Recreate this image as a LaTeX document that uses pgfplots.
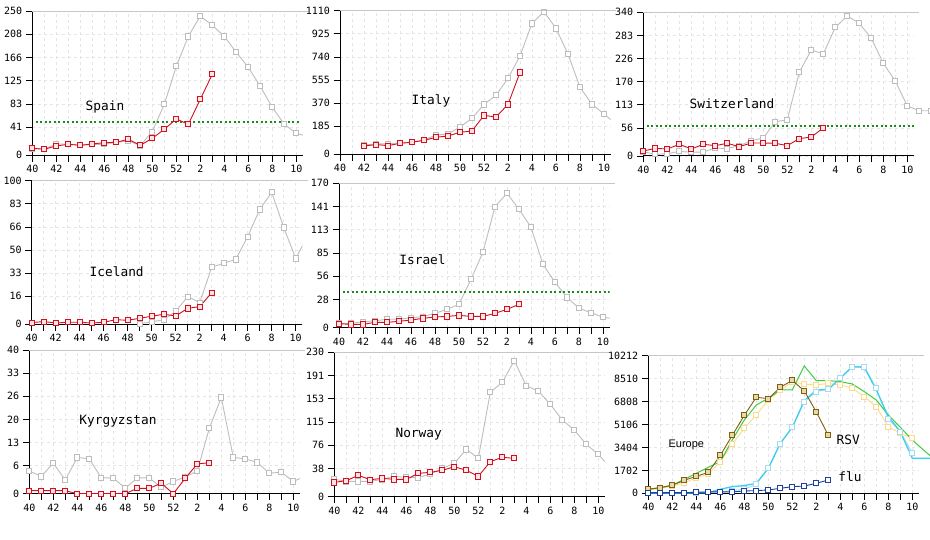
\documentclass[border=0pt]{standalone}
\usepackage{fontspec}
\setmainfont{Liberation Sans}
\setmonofont{DejaVu Sans Mono}
\usepackage{pgfplots}
\pgfplotsset{compat=1.18}

\definecolor{curred}{HTML}{D01020}
\definecolor{curfill}{HTML}{FFE4E4}
\definecolor{prevgray}{HTML}{BDBDBD}
\definecolor{thgreen}{HTML}{1A8A1A}
\definecolor{rsvbrown}{HTML}{7D6015}
\definecolor{rsvfill}{HTML}{E8D9A8}
\definecolor{rsvprev}{HTML}{FFD98A}
\definecolor{rsvavg}{HTML}{3CCC3C}
\definecolor{fluavg}{HTML}{3CCFEF}
\definecolor{fluprev}{HTML}{A6D9F2}
\definecolor{flublue}{HTML}{1F3FA0}

\pgfplotsset{
  panel/.style={
    scale only axis, width=270.6pt, anchor=south west,
    xmin=0, xmax=22.55, ymin=0,
    scaled y ticks=false, scaled x ticks=false,
    axis lines=left, axis line style={-, black, line width=1pt},
    xtick={0,...,22},
    xticklabels={40,,42,,44,,46,,48,,50,,52,,2,,4,,6,,8,,10},
    tick align=outside, major tick length=6.5pt,
    tick style={black, line width=0.8pt},
    grid=major,
    grid style={gray!20, dash pattern=on 3pt off 3pt, line width=0.7pt},
    tick label style={font=\ttfamily\fontsize{10}{12}\selectfont, text=black},
    after end axis/.code={\draw[gray!45, line width=0.9pt] (rel axis cs:0,1) -- (rel axis cs:1.02,1);},
  },
  prev/.style={color=prevgray, line width=0.9pt, mark=square*, mark size=2.6pt,
    mark options={fill=white, draw=prevgray, line width=0.9pt}},
  cur/.style={color=curred, line width=0.9pt, mark=square*, mark size=2.6pt,
    mark options={fill=curfill, draw=curred, line width=0.9pt}},
  thr/.style={color=thgreen, line width=2pt, dash pattern=on 2pt off 2.5pt, no marks},
}

\begin{document}
\begin{tikzpicture}
\useasboundingbox (0,0) rectangle (930pt,540pt);

% ---------------- Spain
\begin{axis}[panel, at={(32.3pt,384.7pt)}, height=144.3pt, ymax=250,
  ytick={0,48.75,89,129.25,169.5,209.75,250}, yticklabels={0,41,83,125,166,208,250}]
\addplot[prev] coordinates {(0,12)(1,11)(2,19.6)(3,19.6)(4,17.3)(5,19)(6,19)(7,22.5)(8,24.8)(9,17)(10,41)(11,88.3)(12,154.2)(13,206)(14,241.3)(15,225.2)(16,206)(17,178.4)(18,152.4)(19,119.5)(20,83.1)(21,53.7)(22,38.1)(23,32.5)};
\addplot[thr] coordinates {(0.3,57.7) (22.4,57.7)};
\addplot[cur] coordinates {(0,12.1)(1,10.4)(2,16.2)(3,19)(4,17.3)(5,19.6)(6,21.9)(7,22.5)(8,27.7)(9,17.3)(10,29.4)(11,45)(12,63)(13,53.7)(14,97)(15,140.3)};
\end{axis}

% ---------------- Italy
\begin{axis}[panel, at={(340pt,385.7pt)}, height=143.6pt, ymax=1110,
  ytick={0,216.45,395.16,573.87,752.58,931.29,1110}, yticklabels={0,185,370,555,740,925,1110}]
\addplot[prev] coordinates {(2,72)(3,80)(4,80)(5,90)(6,95)(7,111)(8,149)(9,157)(10,211)(11,278)(12,386)(13,456)(14,587)(15,760)(16,1012)(17,1102)(18,973)(19,775)(20,518)(21,386)(22,312)(23,234)};
\addplot[cur] coordinates {(2,64)(3,75)(4,67)(5,85)(6,93)(7,108)(8,131)(9,142)(10,170)(11,180)(12,301)(13,288)(14,386)(15,633)};
\end{axis}

% ---------------- Switzerland
\begin{axis}[panel, at={(643.3pt,384pt)}, height=143.7pt, ymax=340, clip=false,
  ytick={0,66.3,121.04,175.78,230.52,285.26,340}, yticklabels={0,56,113,170,226,283,340}]
\addplot[prev] coordinates {(0,10)(1,4)(2,5.5)(3,11)(4,8.7)(5,9.5)(6,19)(7,17.4)(8,24.5)(9,36.3)(10,42.6)(11,81.3)(12,85.2)(13,198)(14,251)(15,241.4)(16,304.5)(17,331.3)(18,314)(19,278.5)(20,219.3)(21,177.5)(22,118.3)(23,107)(24,107)};
\addplot[thr] coordinates {(0.3,71) (22.55,71)};
\addplot[cur] coordinates {(0,11.8)(1,18)(2,16.6)(3,27.6)(4,16.6)(5,27.6)(6,24.5)(7,30)(8,22)(9,30.8)(10,30.8)(11,30)(12,24.5)(13,41)(14,45)(15,66.3)};
\end{axis}

% ---------------- Iceland
\begin{axis}[panel, at={(31.7pt,215.7pt)}, height=143.6pt, ymax=100,
  ytick={0,19.5,35.6,51.7,67.8,83.9,100}, yticklabels={0,16,33,50,66,83,100}]
\addplot[prev] coordinates {(9,0.5)(10,1.6)(11,3.2)(12,9)(13,19.3)(14,15.1)(15,39.7)(16,42.5)(17,45.2)(18,61)(19,80)(20,91.9)(21,67.5)(22,45.9)(23,61.5)};
\addplot[cur] coordinates {(0,1.2)(1,1.9)(2,0.9)(3,1.4)(4,1.4)(5,0.9)(6,1.4)(7,3.2)(8,2.8)(9,4.2)(10,5.6)(11,7)(12,5.8)(13,11.1)(14,12.3)(15,22)};
\end{axis}

% ---------------- Israel
\begin{axis}[panel, at={(339pt,212.3pt)}, height=144.4pt, ymax=170,
  ytick={0,33.15,60.52,87.89,115.26,142.63,170}, yticklabels={0,28,56,85,113,141,170}]
\addplot[prev] coordinates {(0,5.1)(1,5.1)(2,7)(3,8.2)(4,9.8)(5,10.2)(6,11.8)(7,13)(8,16.9)(9,21.6)(10,27.5)(11,57)(12,89)(13,142.5)(14,158.2)(15,139.4)(16,118.2)(17,74.6)(18,53.4)(19,35.7)(20,22.8)(21,17.7)(22,12.2)(23,10.5)};
\addplot[thr] coordinates {(0.3,42) (22.55,42)};
\addplot[cur] coordinates {(0,4.7)(1,3.9)(2,3.9)(3,6.3)(4,6.3)(5,7.5)(6,9)(7,11)(8,12.6)(9,13.3)(10,14.5)(11,13.3)(12,13.3)(13,16.9)(14,21.6)(15,27.5)};
\end{axis}

% ---------------- Kyrgyzstan
\begin{axis}[panel, at={(29.3pt,46.3pt)}, height=143.7pt, ymax=40,
  ytick={0,7.8,14.24,20.68,27.12,33.56,40}, yticklabels={0,6,13,20,26,33,40}]
\addplot[prev] coordinates {(0,6.3)(1,4.8)(2,8.5)(3,3.8)(4,10.1)(5,9.7)(6,4.4)(7,4.4)(8,1.5)(9,4.4)(10,4.4)(11,1.8)(12,3.4)(13,4.7)(14,6.3)(15,18.2)(16,26.8)(17,10.1)(18,9.7)(19,8.7)(20,5.7)(21,6)(22,3.4)(23,4.9)};
\addplot[cur] coordinates {(0,0.84)(1,0.84)(2,0.84)(3,0.84)(4,0)(5,0)(6,0)(7,0)(8,0)(9,1.5)(10,1.5)(11,2.9)(12,0)(13,4.3)(14,8.3)(15,8.6)};
\end{axis}

% ---------------- Norway
\begin{axis}[panel, at={(334.3pt,43.3pt)}, height=144.4pt, ymax=230,
  ytick={0,44.85,81.88,118.91,155.94,192.97,230}, yticklabels={0,38,76,115,153,191,230}]
\addplot[prev] coordinates {(0,27.6)(1,24.4)(2,24.4)(3,24.4)(4,27.6)(5,32.4)(6,30.8)(7,30.8)(8,35.6)(9,45.2)(10,53.1)(11,75.4)(12,61.1)(13,166.3)(14,182.2)(15,216.7)(16,176.4)(17,168.4)(18,147.1)(19,122.2)(20,106.2)(21,83.4)(22,67.5)(23,46.2)};
\addplot[cur] coordinates {(0,22.8)(1,25.5)(2,34)(3,27.1)(4,29.2)(5,27.6)(6,27.6)(7,37.2)(8,38.8)(9,42)(10,47.8)(11,42)(12,32.4)(13,55.8)(14,62.7)(15,61.1)};
\end{axis}

% ---------------- Europe
\begin{axis}[panel, at={(648.3pt,46.7pt)}, height=137.6pt, ymax=10212, clip=false,
  ytick={0,1702,3404,5106,6808,8510,10212}, yticklabels={0,1702,3404,5106,6808,8510,10212}]
\addplot[color=rsvprev, line width=0.9pt, mark=square*, mark size=2.6pt, mark options={fill=white, draw=rsvprev}] coordinates {(0,250)(1,370)(2,520)(3,790)(4,1140)(5,1460)(6,2350)(7,3650)(8,4820)(9,5810)(10,6920)(11,7650)(12,8280)(13,8100)(14,8037)(15,8160)(16,8037)(17,7790)(18,7170)(19,6430)(20,4940)(21,4450)(22,4080)};
\addplot[color=fluprev, line width=0.9pt, mark=square*, mark size=2.6pt, mark options={fill=white, draw=fluprev}] coordinates {(0,40)(1,40)(2,40)(3,50)(4,60)(5,80)(6,120)(7,200)(8,300)(9,668)(10,1855)(11,3660)(12,4897)(13,6800)(14,7550)(15,7716)(16,8581)(17,9397)(18,9397)(19,7790)(20,5515)(21,4575)(22,2968)};
\addplot[color=rsvavg, line width=1pt, no marks] coordinates {(0,300)(1,420)(2,600)(3,1040)(4,1480)(5,1930)(6,2350)(7,3957)(8,5440)(9,6553)(10,7048)(11,7666)(12,7666)(13,9447)(14,8359)(15,8359)(16,8285)(17,8111)(18,7543)(19,6924)(20,5812)(21,4897)(22,3957)(23,3160)(24,2400)};
\addplot[color=fluavg, line width=1.3pt, no marks] coordinates {(0,20)(1,20)(2,20)(3,20)(4,30)(5,50)(6,300)(7,495)(8,570)(9,742)(10,1855)(11,3710)(12,4897)(13,6875)(14,7666)(15,7716)(16,8532)(17,9397)(18,9348)(19,7666)(20,5688)(21,4575)(22,2597)(23,2597)(24,2597)};
\addplot[color=rsvbrown, line width=0.9pt, mark=square*, mark size=2.6pt, mark options={fill=rsvfill, draw=rsvbrown}] coordinates {(0,297)(1,420)(2,594)(3,964)(4,1261)(5,1558)(6,2819)(7,4303)(8,5787)(9,7122)(10,7023)(11,7864)(12,8383)(13,7592)(14,6034)(15,4303)};
\addplot[color=flublue, line width=0.9pt, mark=square*, mark size=2.6pt, mark options={fill=white, draw=flublue}] coordinates {(0,50)(1,50)(2,50)(3,50)(4,75)(5,100)(6,100)(7,100)(8,173)(9,198)(10,247)(11,371)(12,490)(13,540)(14,742)(15,987)};
\end{axis}

% ---------------- panel titles
\begin{scope}[every node/.style={inner sep=0pt, font=\ttfamily\fontsize{12.8}{14}\selectfont}]
\node at (105pt,433pt) {Spain};
\node at (431pt,439pt) {Italy};
\node at (732pt,436pt) {Switzerland};
\node at (116.7pt,268.3pt) {Iceland};
\node at (422.5pt,280pt) {Israel};
\node at (118pt,119pt) {Kyrgyzstan};
\node at (418.7pt,106pt) {Norway};
\node at (848.3pt,100pt) {RSV};
\node at (850pt,63.3pt) {flu};
\end{scope}
\node[inner sep=0pt, font=\fontsize{11}{12}\selectfont] at (686.3pt,94.7pt) {Europe};
\end{tikzpicture}
\end{document}
